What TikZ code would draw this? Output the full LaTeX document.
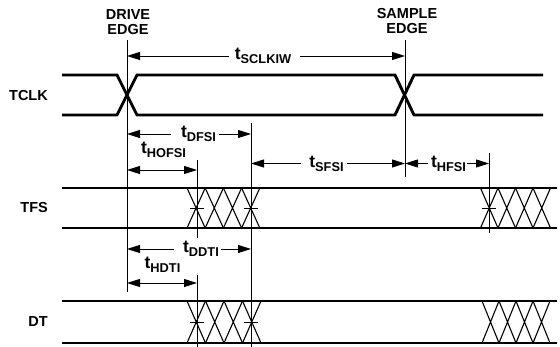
\documentclass[tikz,border=0pt]{standalone}
\usepackage{fontspec}
\setmainfont{Liberation Sans}
\usetikzlibrary{arrows.meta}
\newcommand{\tlab}[1]{{\fontsize{17.5}{17.5}\selectfont t}\raisebox{-4pt}{\fontsize{12.8}{12.8}\selectfont #1}}
\newcommand{\xhatch}[5]{% x0, width, top, bottom, count
  \foreach \i in {1,...,#5} {
    \draw[hatchline] ({#1+(\i-1)*#2},#3) -- ({#1+\i*#2},#4)
                     ({#1+(\i-1)*#2},#4) -- ({#1+\i*#2},#3);
  }}
\begin{document}
\begin{tikzpicture}[x=1pt,y=-1pt,
  sig/.style={line width=2.9pt, line join=miter},
  hatchline/.style={line width=1.1pt},
  vline/.style={line width=0.9pt},
  arr/.style={line width=0.9pt, -{Triangle[length=13pt,width=8pt]}},
  dbl/.style={line width=0.9pt, {Triangle[length=13pt,width=8pt]}-{Triangle[length=13pt,width=8pt]}},
  lbl/.style={font=\fontsize{14.5}{15}\selectfont\bfseries, inner sep=0pt},
  tl/.style={font=\bfseries, inner sep=0pt}]
\path[fill=white, use as bounding box] (0,0) rectangle (560,347);

% key coordinates
\coordinate (drive) at (127,40);
\coordinate (driveEnd) at (127,292);
\coordinate (sample) at (405,40);
\coordinate (sampleEnd) at (405,177);
\coordinate (v1a) at (197,160);
\coordinate (v1b) at (197,238);
\coordinate (v1c) at (197,275);
\coordinate (v1d) at (197,347);
\coordinate (v2a) at (251,123);
\coordinate (v2b) at (251,347);
\coordinate (v3a) at (489,153);
\coordinate (v3b) at (489,233);

% top labels
\node[lbl, align=center] (drivelbl) at (128,22.5) {DRIVE\\EDGE};
\node[lbl, align=center] (samplelbl) at (407,21) {SAMPLE\\EDGE};

% row labels
\node[lbl, anchor=east] (tclk) at (48,96) {TCLK};
\node[lbl, anchor=east] (tfs) at (48,208) {TFS};
\node[lbl, anchor=east] (dt) at (48,322) {DT};

% hatches
\xhatch{187}{18.2}{188}{228}{4}
\xhatch{480.5}{17.5}{188}{228}{4}
\xhatch{187}{18.5}{301}{343}{4}
\xhatch{482}{17}{301}{343}{4}

% signals
\draw[sig] (62,75) -- (117,75) -- (137,115) -- (395,115) -- (414,75) -- (543,75);
\draw[sig] (62,115) -- (117,115) -- (137,75) -- (395,75) -- (414,115) -- (543,115);
\draw[sig] (62,188) -- (557,188);
\draw[sig] (62,228) -- (557,228);
\draw[sig] (62,301) -- (557,301);
\draw[sig] (62,343) -- (557,343);

% vertical reference lines
\draw[vline] (drive) -- (driveEnd);
\draw[vline] (sample) -- (sampleEnd);
\draw[vline] (v1a) -- (v1b);
\draw[vline] (v1c) -- (v1d);
\draw[vline] (v2a) -- (v2b);
\draw[vline] (v3a) -- (v3b);

% ticks
\draw[vline] (190,208) -- (204,208);
\draw[vline] (244,208) -- (258,208);
\draw[vline] (482,208) -- (496,208);
\draw[vline] (190,322) -- (204,322);
\draw[vline] (244,322) -- (258,322);

% timing labels
\node[tl] (sclkiw) at (263,56) {\tlab{SCLKIW}};
\node[tl] (dfsi) at (198.5,134) {\tlab{DFSI}};
\node[tl] (hofsi) at (163.5,150) {\tlab{HOFSI}};
\node[tl] (sfsi) at (326.5,163.5) {\tlab{SFSI}};
\node[tl] (hfsi) at (448.5,163.5) {\tlab{HFSI}};
\node[tl] (ddti) at (201,249) {\tlab{DDTI}};
\node[tl] (hdti) at (162.5,265) {\tlab{HDTI}};

% arrows
\draw[arr, shorten <=6pt] (sclkiw.west) -- (sclkiw.west -| drive);
\draw[arr, shorten <=9pt] (sclkiw.east) -- (sclkiw.east -| sample);
\draw[arr, shorten <=10pt] (dfsi.west) -- (dfsi.west -| drive);
\draw[arr, shorten <=3pt] (dfsi.east) -- (dfsi.east -| v2a);
\coordinate (hofsiL) at (127,170);
\coordinate (hofsiR) at (197,170);
\draw[dbl] (hofsiL) -- (hofsiR);
\draw[arr, shorten <=8pt] (sfsi.west) -- (sfsi.west -| v2a);
\draw[arr, shorten <=3pt] (sfsi.east) -- (sfsi.east -| sample);
\draw[arr, shorten <=3pt] (hfsi.west) -- (hfsi.west -| sample);
\draw[arr, shorten <=1pt] (hfsi.east) -- (hfsi.east -| v3a);
\draw[arr, shorten <=9pt] (ddti.west) -- (ddti.west -| drive);
\draw[arr, shorten <=2pt] (ddti.east) -- (ddti.east -| v2a);
\coordinate (hdtiL) at (127,283);
\coordinate (hdtiR) at (197,283);
\draw[dbl] (hdtiL) -- (hdtiR);
\end{tikzpicture}
\end{document}
